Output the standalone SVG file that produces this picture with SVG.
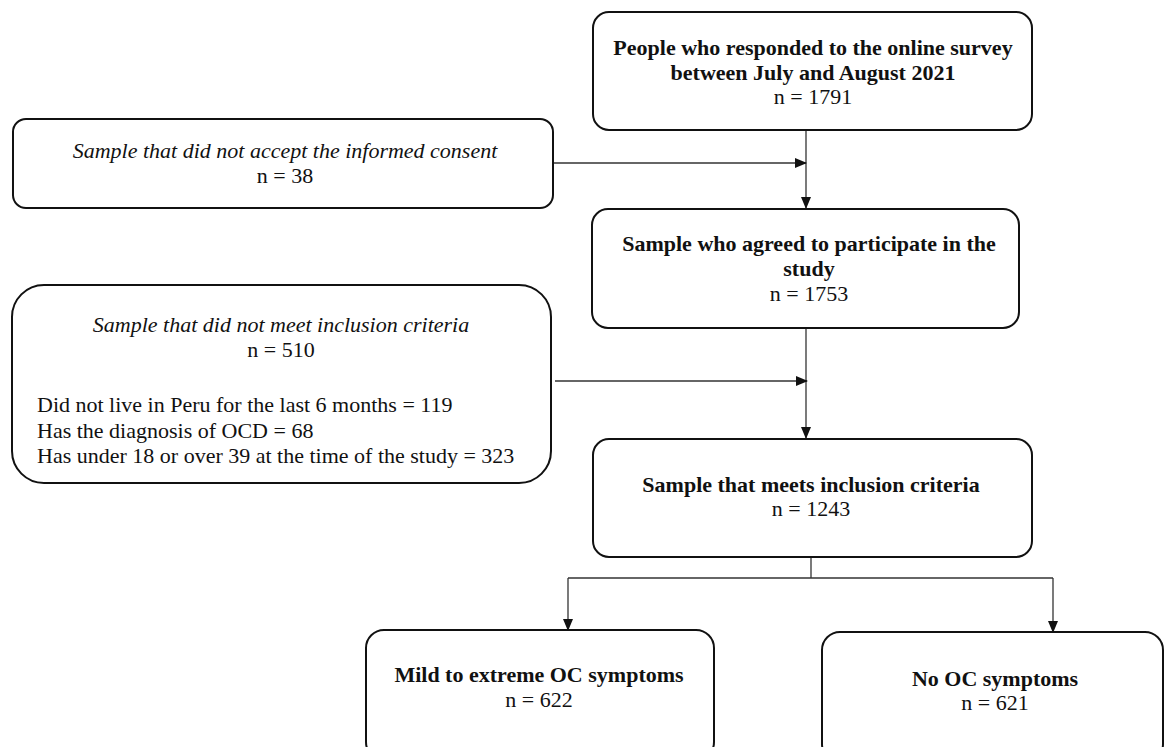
<svg xmlns="http://www.w3.org/2000/svg" width="1164" height="747" viewBox="0 0 1164 747">
<style>
.box{fill:#fff;stroke:#111;stroke-width:2}
.t{font-family:"Liberation Serif","Times New Roman",serif;fill:#111;text-anchor:middle;font-size:22px}
.b{font-weight:bold}
.i{font-style:italic}
.l{text-anchor:start}
.c{fill:none;stroke:#333;stroke-width:1.3}
</style>
<defs>
<marker id="ah" markerWidth="12" markerHeight="10" refX="11" refY="5" orient="auto" markerUnits="userSpaceOnUse">
<path d="M0,0 L12,5 L0,10 Z" fill="#111"/>
</marker>
</defs>
<g id="connectors">
<line class="c" x1="806" y1="130" x2="806" y2="208" marker-end="url(#ah)"/>
<line class="c" x1="553" y1="163" x2="806" y2="163" marker-end="url(#ah)"/>
<line class="c" x1="806" y1="328" x2="806" y2="438" marker-end="url(#ah)"/>
<line class="c" x1="555" y1="381" x2="807" y2="381" marker-end="url(#ah)"/>
<polyline class="c" points="811,557 811,578"/>
<polyline class="c" points="568,578 1053,578"/>
<line class="c" x1="568" y1="578" x2="568" y2="630" marker-end="url(#ah)"/>
<line class="c" x1="1053" y1="578" x2="1053" y2="632" marker-end="url(#ah)"/>
</g>
<g id="n1">
<rect class="box" x="593" y="12" width="439" height="118" rx="16"/>
<text class="t b" x="813" y="55">People who responded to the online survey</text>
<text class="t b" x="813" y="80">between July and August 2021</text>
<text class="t" x="813" y="104">n = 1791</text>
</g>
<g id="n2">
<rect class="box" x="13" y="119" width="540" height="89" rx="13"/>
<text class="t i" x="285" y="158">Sample that did not accept the informed consent</text>
<text class="t" x="285" y="183">n = 38</text>
</g>
<g id="n3">
<rect class="box" x="592" y="209" width="427" height="119" rx="16"/>
<text class="t b" x="809" y="251">Sample who agreed to participate in the</text>
<text class="t b" x="809" y="276">study</text>
<text class="t" x="809" y="301">n = 1753</text>
</g>
<g id="n4">
<rect class="box" x="12" y="285" width="539" height="198" rx="32"/>
<text class="t i" x="281" y="332">Sample that did not meet inclusion criteria</text>
<text class="t" x="281" y="357">n = 510</text>
<text class="t l" x="37" y="412">Did not live in Peru for the last 6 months = 119</text>
<text class="t l" x="37" y="438">Has the diagnosis of OCD = 68</text>
<text class="t l" x="37" y="463">Has under 18 or over 39 at the time of the study = 323</text>
</g>
<g id="n5">
<rect class="box" x="593" y="439" width="439" height="118" rx="16"/>
<text class="t b" x="811" y="492">Sample that meets inclusion criteria</text>
<text class="t" x="811" y="516">n = 1243</text>
</g>
<g id="n6">
<rect class="box" x="366" y="630" width="348" height="130" rx="18"/>
<text class="t b" x="539" y="682">Mild to extreme OC symptoms</text>
<text class="t" x="539" y="707">n = 622</text>
</g>
<g id="n7">
<rect class="box" x="822" y="632" width="341" height="130" rx="18"/>
<text class="t b" x="995" y="686">No OC symptoms</text>
<text class="t" x="995" y="710">n = 621</text>
</g>
</svg>
